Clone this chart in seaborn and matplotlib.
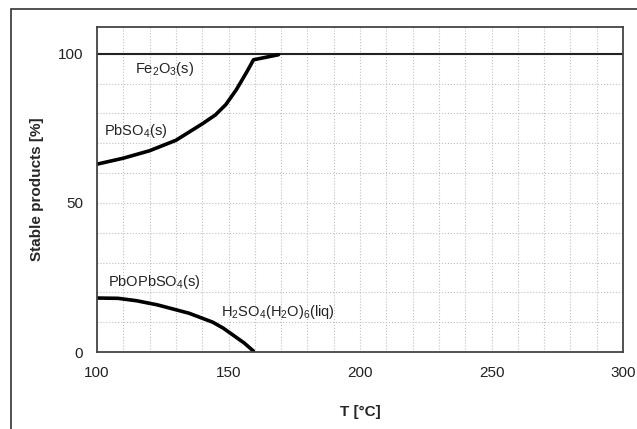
import numpy as np
import pandas as pd
import matplotlib
matplotlib.use("Agg")
import matplotlib.pyplot as plt
from matplotlib.ticker import MultipleLocator
from matplotlib.patches import Rectangle
import seaborn as sns

# Dati
t_pbso4 = [100, 110, 120, 130, 140, 145, 149, 153, 157, 159.5, 169]
y_pbso4 = [63, 65, 67.5, 71, 76.5, 79.5, 83, 88, 94, 98, 99.7]

t_pbopbso4 = [100, 108, 115, 123, 135, 144, 148, 152, 156, 159.5]
y_pbopbso4 = [18.1, 18.0, 17.2, 15.8, 13, 10, 8, 5.5, 3, 0.3]

t_fe2o3 = [100, 300]
y_fe2o3 = [100, 100]

x_ticks = [100, 150, 200, 250, 300]
y_ticks = [0, 50, 100]

# Tema
sns.set_style("white")
plt.rcParams["font.family"] = ["Liberation Sans", "DejaVu Sans"]
plt.rcParams["mathtext.fontset"] = "custom"
plt.rcParams["mathtext.rm"] = "Liberation Sans"
plt.rcParams["mathtext.it"] = "Liberation Sans"
plt.rcParams["mathtext.default"] = "regular"

fig = plt.figure(figsize=(6.37, 4.29), dpi=100)
ax = fig.add_axes([97 / 637, 1 - 352 / 429, (623 - 97) / 637, (352 - 27) / 429])

# Cornice esterna
fig.patches.append(Rectangle((11 / 637, -0.1), 1.2, 1.1 - 9 / 429,
                             transform=fig.transFigure, fill=False,
                             edgecolor="#333333", linewidth=1.2))

df_pbso4 = pd.DataFrame({"T": t_pbso4, "val": y_pbso4})
df_pbo = pd.DataFrame({"T": t_pbopbso4, "val": y_pbopbso4})
df_fe = pd.DataFrame({"T": t_fe2o3, "val": y_fe2o3})

sns.lineplot(data=df_fe, x="T", y="val", ax=ax, color="#222222", linewidth=1.5)
sns.lineplot(data=df_pbso4, x="T", y="val", ax=ax, color="black", linewidth=2.6)
sns.lineplot(data=df_pbo, x="T", y="val", ax=ax, color="black", linewidth=2.6)

ax.set_xlim(100, 300)
ax.set_ylim(0, 109)
ax.set_xticks(x_ticks)
ax.set_yticks(y_ticks)
ax.xaxis.set_minor_locator(MultipleLocator(10))
ax.yaxis.set_minor_locator(MultipleLocator(10))
ax.grid(which="both", color="#c0c0c0", linestyle=":", linewidth=0.8)
ax.tick_params(which="major", direction="in", length=5, width=1.2,
               labelsize=11, colors="#222222", pad=10)
ax.tick_params(which="minor", length=0)

for s in ax.spines.values():
    s.set_color("#444444")
    s.set_linewidth(1.3)

ax.set_xlabel("T [°C]", fontsize=11, fontweight="bold", labelpad=18)
ax.set_ylabel("Stable products [%]", fontsize=11, fontweight="bold", labelpad=10)

# Etichette delle specie
ax.text(114.5, 95, r"Fe$_2$O$_3$(s)", fontsize=10.5, va="center", color="#222222")
ax.text(102.7, 74, r"PbSO$_4$(s)", fontsize=10.5, va="center", color="#222222")
ax.text(104, 23.4, r"PbOPbSO$_4$(s)", fontsize=10.5, va="center", color="#222222")
ax.text(147.2, 13.4, r"H$_2$SO$_4$(H$_2$O)$_6$(liq)", fontsize=10.5, va="center", color="#222222")

plt.savefig("out.png", dpi=100)
